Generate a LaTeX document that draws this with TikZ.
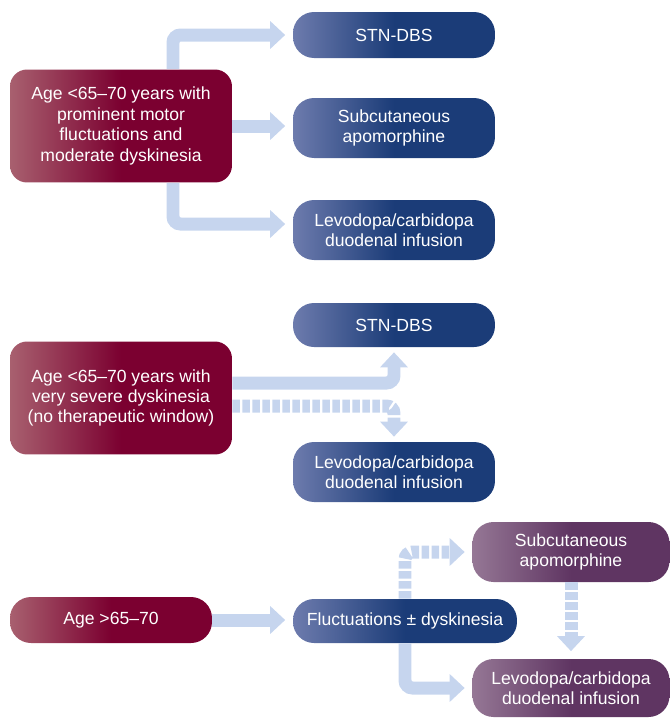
\documentclass[tikz,border=0pt]{standalone}
\usepackage{fontspec}
\setmainfont{Liberation Sans}
\usetikzlibrary{arrows.meta}
\definecolor{agedark}{HTML}{7B0030}
\definecolor{agelight}{HTML}{A8606F}
\definecolor{optdark}{HTML}{1B3C78}
\definecolor{optlight}{HTML}{6D7BAD}
\definecolor{altdark}{HTML}{5F3562}
\definecolor{altlight}{HTML}{957795}
\definecolor{flowblue}{HTML}{C6D5EE}
\tikzset{
	box/.style={rounded corners=3.4mm, text=white, align=center, inner sep=0pt,
		font=\fontsize{10}{11.6}\selectfont},
	agebox/.style={box, left color=agelight, right color=agedark, middle color=agedark},
	optbox/.style={box, rounded corners=4.2mm, left color=optlight, right color=optdark, middle color=optdark},
	altbox/.style={box, rounded corners=4.2mm, left color=altlight, right color=altdark, middle color=altdark},
	flow/.style={draw=flowblue, line width=2.6mm, rounded corners=1.5mm,
		-{Triangle[length=3mm,width=5.4mm]}, shorten >=1.5mm},
	dashflow/.style={flow, dash pattern=on 1.5mm off 0.5mm}
}
\begin{document}
\begin{tikzpicture}[x=0.02cm, y=-0.02cm]
	\useasboundingbox (0,0) rectangle (670,718);
	% first group
	\node[agebox, minimum width=4.44cm, minimum height=2.26cm] (age1) at (121,126) {Age <65–70 years with\\prominent motor\\fluctuations and\\moderate dyskinesia};
	\node[optbox, minimum width=4.04cm, minimum height=0.92cm] (stn1) at (394,35) {STN-DBS};
	\node[optbox, minimum width=4.04cm, minimum height=1.2cm] (apo1) at (394,128) {Subcutaneous\\apomorphine};
	\node[optbox, minimum width=4.04cm, minimum height=1.2cm] (levo1) at (394,230) {Levodopa/carbidopa\\duodenal infusion};
	\coordinate (trunk) at (173,0);
	\draw[flow] (age1.north -| trunk) |- (stn1.west);
	\draw[flow] (age1.east) -- (age1.east -| apo1.west);
	\draw[flow] (age1.south -| trunk) |- ([yshift=1.2mm]levo1.west);
	% second group
	\node[agebox, minimum width=4.44cm, minimum height=2.26cm] (age2) at (121,398) {Age <65–70 years with\\very severe dyskinesia\\(no therapeutic window)};
	\node[optbox, minimum width=4.04cm, minimum height=0.88cm] (stn2) at (394,325) {STN-DBS};
	\node[optbox, minimum width=4.04cm, minimum height=1.2cm] (levo2) at (394,472) {Levodopa/carbidopa\\duodenal infusion};
	\draw[flow, shorten >=1mm] ([yshift=3mm]age2.east) -| (stn2.south);
	\draw[dashflow, shorten >=1mm] ([yshift=-1.6mm]age2.east) -| (levo2.north);
	% third group
	\node[agebox, rounded corners=4.2mm, minimum width=4.04cm, minimum height=0.92cm] (age3) at (111,620) {Age >65–70};
	\node[optbox, minimum width=4.48cm, minimum height=0.88cm] (flu) at (405,621) {Fluctuations ± dyskinesia};
	\node[altbox, minimum width=3.94cm, minimum height=1.2cm] (apo3) at (571,552) {Subcutaneous\\apomorphine};
	\node[altbox, minimum width=3.94cm, minimum height=1.16cm] (levo3) at (571,688) {Levodopa/carbidopa\\duodenal infusion};
	\draw[flow] (age3.east) -- (age3.east -| flu.west);
	\draw[dashflow] (flu.north) |- (apo3.west);
	\draw[flow] (flu.south) |- (levo3.west);
	\draw[dashflow] (apo3.south) -- (levo3.north);
\end{tikzpicture}
\end{document}
